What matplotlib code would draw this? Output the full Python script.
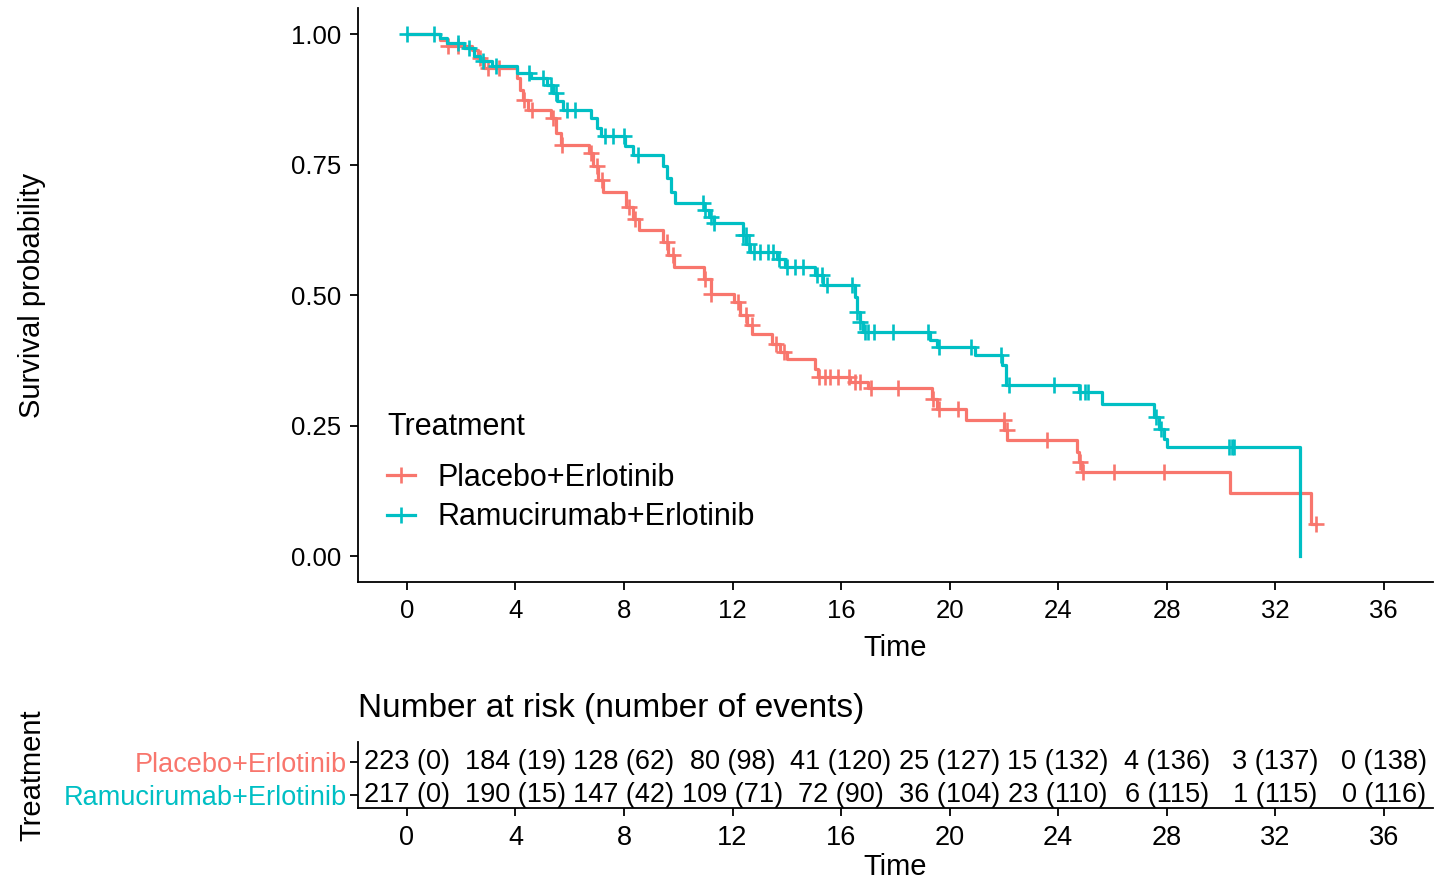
import numpy as np
import matplotlib
matplotlib.use("Agg")
from matplotlib import pyplot as plt

plt.rcParams['font.family'] = ['Liberation Sans', 'DejaVu Sans']

RED = "#F8766D"
TEAL = "#00BFC4"

groups = ["Placebo+Erlotinib", "Ramucirumab+Erlotinib"]

# Kaplan-Meier steps (time in months, survival after the step)
pla_times = [0, 1.21, 1.47, 2.39, 2.61, 2.83, 4.04, 4.15, 4.29, 4.48, 5.32, 5.50, 5.69,
             6.72, 6.86, 7.05, 7.23, 8.07, 8.33, 8.55, 9.43, 9.61, 9.83, 10.94, 11.19,
             12.04, 12.29, 12.55, 12.73, 13.47, 13.76, 14.02, 15.05, 15.16, 16.33,
             17.0, 19.34, 19.52, 20.62, 22.02, 22.13, 24.70, 24.77, 24.88, 30.35, 33.32]
pla_surv = [1.0, 0.989, 0.977, 0.969, 0.954, 0.935, 0.916, 0.893, 0.874, 0.855, 0.840,
            0.811, 0.788, 0.773, 0.748, 0.721, 0.698, 0.668, 0.645, 0.624, 0.601, 0.576,
            0.553, 0.531, 0.502, 0.487, 0.462, 0.443, 0.426, 0.406, 0.391, 0.378, 0.359,
            0.344, 0.333, 0.322, 0.302, 0.281, 0.261, 0.242, 0.223, 0.200, 0.181, 0.162,
            0.122, 0.061]
pla_censor = [1.5, 1.9, 2.7, 3.0, 3.4, 4.3, 4.6, 5.4, 5.7, 6.8, 7.0, 7.2, 8.2, 8.4, 9.6,
              9.8, 11.0, 11.2, 12.2, 12.5, 12.7, 13.6, 13.9, 15.2, 15.4, 15.6, 15.9, 16.3,
              16.5, 16.7, 17.1, 18.1, 19.4, 19.6, 20.3, 22.0, 22.1, 23.6, 24.8, 24.9,
              26.05, 27.9, 33.5]
pla_end = 33.5

ram_times = [0, 1.21, 1.47, 2.09, 2.46, 2.68, 3.12, 4.04, 4.59, 5.17, 5.39, 5.54, 5.76,
             6.79, 7.01, 7.16, 8.04, 8.33, 9.43, 9.58, 9.72, 9.87, 10.94, 11.12, 11.30,
             12.37, 12.51, 12.66, 13.65, 13.94, 15.05, 15.34, 16.51, 16.59, 16.70, 16.81,
             19.27, 19.52, 20.92, 21.94, 22.09, 24.77, 25.61, 27.52, 27.71, 27.89, 28.0,
             32.92]
ram_surv = [1.0, 0.992, 0.983, 0.973, 0.958, 0.948, 0.939, 0.926, 0.916, 0.903, 0.887,
            0.872, 0.855, 0.840, 0.821, 0.805, 0.786, 0.769, 0.748, 0.725, 0.697, 0.677,
            0.664, 0.649, 0.639, 0.616, 0.597, 0.582, 0.569, 0.553, 0.538, 0.519, 0.496,
            0.468, 0.448, 0.429, 0.414, 0.401, 0.385, 0.366, 0.328, 0.315, 0.292, 0.267,
            0.244, 0.225, 0.210, 0.0]
ram_censor = [0.0, 1.0, 1.9, 2.3, 2.8, 3.3, 4.5, 5.0, 5.3, 5.5, 5.9, 6.2, 7.3, 7.6, 8.0,
              8.5, 10.9, 11.0, 11.2, 11.3, 12.4, 12.5, 12.6, 12.8, 13.0, 13.3, 13.5, 13.7,
              14.0, 14.3, 14.6, 15.1, 15.3, 15.5, 16.4, 16.6, 16.7, 16.9, 17.0, 17.2,
              17.9, 19.2, 19.6, 20.8, 21.9, 22.2, 23.85, 24.8, 25.0, 25.1, 27.6, 27.8,
              30.3, 30.4, 30.5]
ram_end = 32.92

# risk table
risk_times = [0, 4, 8, 12, 16, 20, 24, 28, 32, 36]
pla_risk = [223, 184, 128, 80, 41, 25, 15, 4, 3, 0]
pla_events = [0, 19, 62, 98, 120, 127, 132, 136, 137, 138]
ram_risk = [217, 190, 147, 109, 72, 36, 23, 6, 1, 0]
ram_events = [0, 15, 42, 71, 90, 104, 110, 115, 115, 116]


def surv_at(times, surv, t):
    idx = np.searchsorted(times, t, side='right') - 1
    return np.array(surv)[idx]


fig = plt.figure(figsize=(14.34, 8.85), dpi=100)
ax = fig.add_axes([0.2497, 0.342, 0.7493, 0.649])
tab = fig.add_axes([0.2497, 0.087, 0.7493, 0.075])

for times, surv, cens, end, col, name in [
        (pla_times, pla_surv, pla_censor, pla_end, RED, groups[0]),
        (ram_times, ram_surv, ram_censor, ram_end, TEAL, groups[1])]:
    xs = np.append(times, end)
    ys = np.append(surv, surv[-1])
    ax.step(xs, ys, where='post', color=col, lw=2.3)
    ax.plot(cens, surv_at(times, surv, cens), ls='none', marker='+', ms=11,
            mew=1.9, color=col)
    # legend handle
    ax.plot([], [], color=col, lw=2.3, marker='+', ms=11, mew=1.9, label=name)

ax.set_xlim(-1.8, 37.8)
ax.set_ylim(-0.05, 1.05)
ax.set_xticks(risk_times)
ax.set_yticks([0, 0.25, 0.5, 0.75, 1.0])
ax.set_yticklabels(["0.00", "0.25", "0.50", "0.75", "1.00"])
ax.set_xlabel("Time", fontsize=21, labelpad=8)
ax.set_ylabel("Survival probability", fontsize=21, labelpad=0)
ax.yaxis.set_label_coords(-0.29, 0.5)
for s in ["top", "right"]:
    ax.spines[s].set_visible(False)
for s in ["left", "bottom"]:
    ax.spines[s].set_linewidth(1.3)
ax.tick_params(labelsize=18.5, length=6, width=1.3, pad=6)

leg = ax.legend(title="Treatment", loc='upper left', bbox_to_anchor=(0.027, 0.296),
                frameon=False, fontsize=22, title_fontsize=22, handlelength=0.9,
                handletextpad=0.75, labelspacing=0.3, borderpad=0, borderaxespad=0,
                alignment='left')
leg._legend_box.sep = 15

# risk table
for row, risk, ev in [(2, pla_risk, pla_events), (1, ram_risk, ram_events)]:
    for t, r, e in zip(risk_times, risk, ev):
        tab.text(t, row, f"{r} ({e})", ha='center', va='center', fontsize=19.5)

tab.set_xlim(-1.8, 37.8)
tab.set_ylim(0.6, 2.6)
tab.set_xticks(risk_times)
tab.set_yticks([2, 1])
tab.set_yticklabels(groups)
for lab, col in zip(tab.get_yticklabels(), [RED, TEAL]):
    lab.set_color(col)
tab.tick_params(labelsize=19.5, length=6, width=1.3, pad=6)
tab.tick_params(axis='y', pad=2)
for s in ["top", "right"]:
    tab.spines[s].set_visible(False)
for s in ["left", "bottom"]:
    tab.spines[s].set_linewidth(1.3)
tab.set_xlabel("Time", fontsize=21, labelpad=2)
tab.set_ylabel("Treatment", fontsize=21)
tab.yaxis.set_label_coords(-0.29, 0.5)
tab.set_title("Number at risk (number of events)", loc='left', fontsize=24, pad=18)

fig.savefig("out.png", dpi=100)
